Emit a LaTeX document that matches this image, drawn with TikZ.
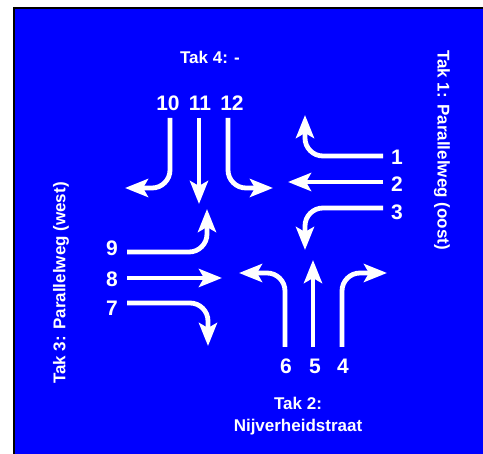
\documentclass[tikz,border=0pt]{standalone}
\usepackage{fontspec}
\setmainfont{Liberation Sans}
\usetikzlibrary{arrows.meta}
\begin{document}
\begin{tikzpicture}[x=1pt,y=-1pt,
  lane/.style={white, line width=4.8pt, rounded corners=18pt, -{Stealth[length=23pt,width=18pt,inset=5pt]}},
  num/.style={text=white, font=\fontsize{21}{21}\selectfont\bfseries, inner sep=0pt},
  lbl/.style={text=white, font=\fontsize{17}{22}\selectfont\bfseries, inner sep=0pt, align=center}]
\useasboundingbox (0,0) rectangle (483,454);
\fill[white] (0,0) rectangle (483,454);
\fill[blue] (14,8) rectangle (483,454);
\draw[black, line width=2.5pt] (14,460) -- (14,8) -- (490,8);

% labels
\node[lbl] (tak4) at (210,57) {Tak 4: -};
\node[lbl, rotate=-90] (tak1) at (442,150) {Tak 1: Parallelweg (oost)};
\node[lbl, rotate=90] (tak3) at (61,283) {Tak 3: Parallelweg (west)};
\node[lbl] (tak2) at (298,416) {Tak 2:\\Nijverheidstraat};

% numbers
\node[num] (n10) at (168,103) {10};
\node[num] (n11) at (200,103) {11};
\node[num] (n12) at (232,103) {12};
\node[num] (n1) at (397,157) {1};
\node[num] (n2) at (397,184) {2};
\node[num] (n3) at (397,212) {3};
\node[num] (n9) at (112,248) {9};
\node[num] (n8) at (112,279) {8};
\node[num] (n7) at (112,308) {7};
\node[num] (n6) at (286,366) {6};
\node[num] (n5) at (315,366) {5};
\node[num] (n4) at (343,366) {4};

% arrow ends
\coordinate (e10) at (125,188);
\coordinate (e11) at (199,204);
\coordinate (e12) at (273,188);
\coordinate (e1) at (305,115);
\coordinate (e2) at (288,182);
\coordinate (e3) at (305,250);
\coordinate (e9) at (207,209);
\coordinate (e8) at (222,278);
\coordinate (e7) at (208,346);
\coordinate (e6) at (239,273);
\coordinate (e5) at (313,260);
\coordinate (e4) at (387,273);

% north
\draw[lane] (170,118) |- (e10);
\draw[lane] (199,118) -- (e11);
\draw[lane] (228,118) |- (e12);
% east
\draw[lane] (383,156) -| (e1);
\draw[lane] (383,182) -- (e2);
\draw[lane] (383,208) -| (e3);
% west
\draw[lane] (127,252) -| (e9);
\draw[lane] (127,278) -- (e8);
\draw[lane] (127,303) -| (e7);
% south
\draw[lane] (285,347) |- (e6);
\draw[lane] (313,347) -- (e5);
\draw[lane] (342,347) |- (e4);
\end{tikzpicture}
\end{document}
